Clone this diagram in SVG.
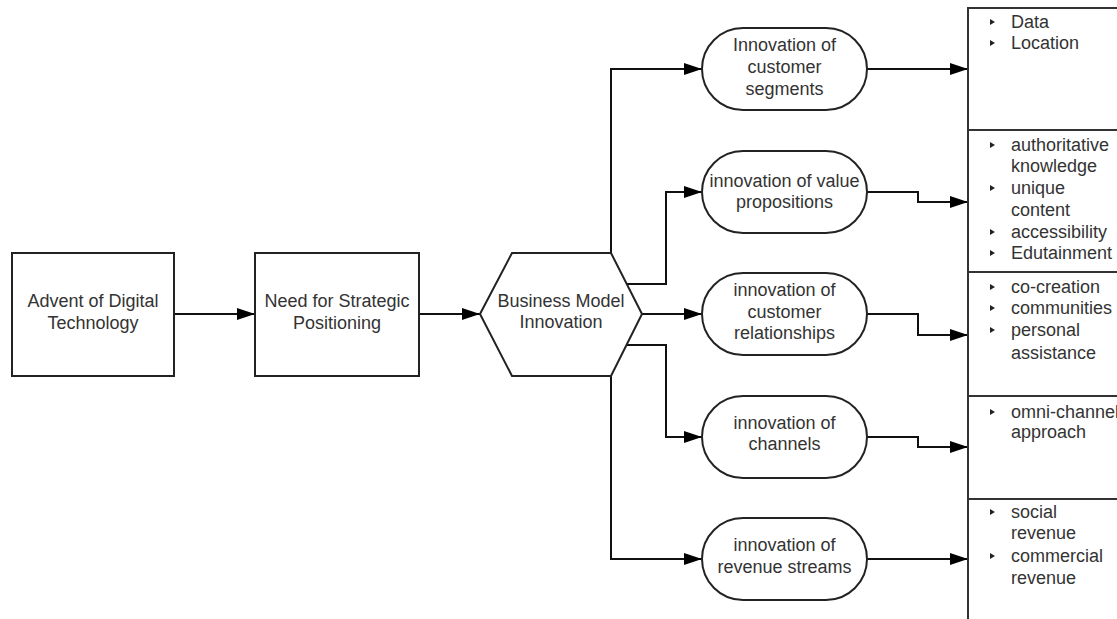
<svg xmlns="http://www.w3.org/2000/svg" width="1117" height="619" viewBox="0 0 1117 619">
<style>
.shape{fill:#fff;stroke:#222;stroke-width:2}
.conn{fill:none;stroke:#111;stroke-width:2}
.lbl{font-family:"Liberation Sans",Arial,sans-serif;font-size:18px;fill:#333;text-anchor:middle}
.lst{font-family:"Liberation Sans",Arial,sans-serif;font-size:18px;fill:#333}
.panel{fill:none;stroke:#333;stroke-width:2}
</style>
<defs>
<marker id="arr" markerUnits="userSpaceOnUse" markerWidth="18" markerHeight="12" refX="18" refY="6" orient="auto">
<path d="M0,0 L18,6 L0,12 z" fill="#000"/>
</marker>
<polygon id="bul" points="0,-3 5,0 0,3" fill="#222"/>
</defs>
<rect width="1117" height="619" fill="#fff"/>

<g id="connectors">
<path class="conn" marker-end="url(#arr)" d="M174,314 H255"/>
<path class="conn" marker-end="url(#arr)" d="M419,314 H480"/>
<path class="conn" marker-end="url(#arr)" d="M611,253 V69 H702"/>
<path class="conn" marker-end="url(#arr)" d="M627,284 H666 V192 H702"/>
<path class="conn" marker-end="url(#arr)" d="M642,314 H702"/>
<path class="conn" marker-end="url(#arr)" d="M627,345 H666 V437 H702"/>
<path class="conn" marker-end="url(#arr)" d="M611,376 V559 H702"/>
<path class="conn" marker-end="url(#arr)" d="M867,69 H968"/>
<path class="conn" marker-end="url(#arr)" d="M867,192 H918 V202 H968"/>
<path class="conn" marker-end="url(#arr)" d="M867,314 H918 V335 H968"/>
<path class="conn" marker-end="url(#arr)" d="M867,437 H918 V447 H968"/>
<path class="conn" marker-end="url(#arr)" d="M867,559 H968"/>
</g>

<g id="advent">
<rect class="shape" x="12" y="253" width="162" height="123"/>
<text class="lbl" x="93" y="307">Advent of Digital</text>
<text class="lbl" x="93" y="329">Technology</text>
</g>

<g id="need">
<rect class="shape" x="255" y="253" width="164" height="123"/>
<text class="lbl" x="337" y="307">Need for Strategic</text>
<text class="lbl" x="337" y="329">Positioning</text>
</g>

<g id="bmi">
<polygon class="shape" points="480,314 512,253 611,253 642,314 611,376 512,376"/>
<text class="lbl" x="561" y="307">Business Model</text>
<text class="lbl" x="561" y="328">Innovation</text>
</g>

<g id="segments">
<rect class="shape" x="702" y="28" width="165" height="82" rx="41" ry="41"/>
<text class="lbl" x="784.5" y="51">Innovation of</text>
<text class="lbl" x="784.5" y="73">customer</text>
<text class="lbl" x="784.5" y="95">segments</text>
</g>

<g id="value">
<rect class="shape" x="702" y="151" width="165" height="82" rx="41" ry="41"/>
<text class="lbl" x="784.5" y="187">innovation of value</text>
<text class="lbl" x="784.5" y="208">propositions</text>
</g>

<g id="relationships">
<rect class="shape" x="702" y="273" width="165" height="82" rx="41" ry="41"/>
<text class="lbl" x="784.5" y="296">innovation of</text>
<text class="lbl" x="784.5" y="318">customer</text>
<text class="lbl" x="784.5" y="339">relationships</text>
</g>

<g id="channels">
<rect class="shape" x="702" y="396" width="165" height="82" rx="41" ry="41"/>
<text class="lbl" x="784.5" y="429">innovation of</text>
<text class="lbl" x="784.5" y="450">channels</text>
</g>

<g id="revenue">
<rect class="shape" x="702" y="518" width="165" height="82" rx="41" ry="41"/>
<text class="lbl" x="784.5" y="551">innovation of</text>
<text class="lbl" x="784.5" y="573">revenue streams</text>
</g>

<g id="panel">
<path class="panel" d="M968,619 V8 H1117 M968,130 H1117 M968,272 H1117 M968,396 H1117 M968,499 H1117"/>
<use href="#bul" x="990" y="22"/>
<use href="#bul" x="990" y="43"/>
<text class="lst" x="1011" y="28">Data</text>
<text class="lst" x="1011" y="49">Location</text>

<use href="#bul" x="990" y="145"/>
<use href="#bul" x="990" y="188"/>
<use href="#bul" x="990" y="232"/>
<use href="#bul" x="990" y="253"/>
<text class="lst" x="1011" y="151">authoritative</text>
<text class="lst" x="1011" y="172">knowledge</text>
<text class="lst" x="1011" y="194">unique</text>
<text class="lst" x="1011" y="216">content</text>
<text class="lst" x="1011" y="238">accessibility</text>
<text class="lst" x="1011" y="259">Edutainment</text>

<use href="#bul" x="990" y="287"/>
<use href="#bul" x="990" y="308"/>
<use href="#bul" x="990" y="330"/>
<text class="lst" x="1011" y="293">co-creation</text>
<text class="lst" x="1011" y="314">communities</text>
<text class="lst" x="1011" y="336">personal</text>
<text class="lst" x="1011" y="359">assistance</text>

<use href="#bul" x="990" y="412"/>
<text class="lst" x="1011" y="418">omni-channel</text>
<text class="lst" x="1011" y="438">approach</text>

<use href="#bul" x="990" y="512"/>
<use href="#bul" x="990" y="556"/>
<text class="lst" x="1011" y="518">social</text>
<text class="lst" x="1011" y="539">revenue</text>
<text class="lst" x="1011" y="562">commercial</text>
<text class="lst" x="1011" y="584">revenue</text>
</g>
</svg>
